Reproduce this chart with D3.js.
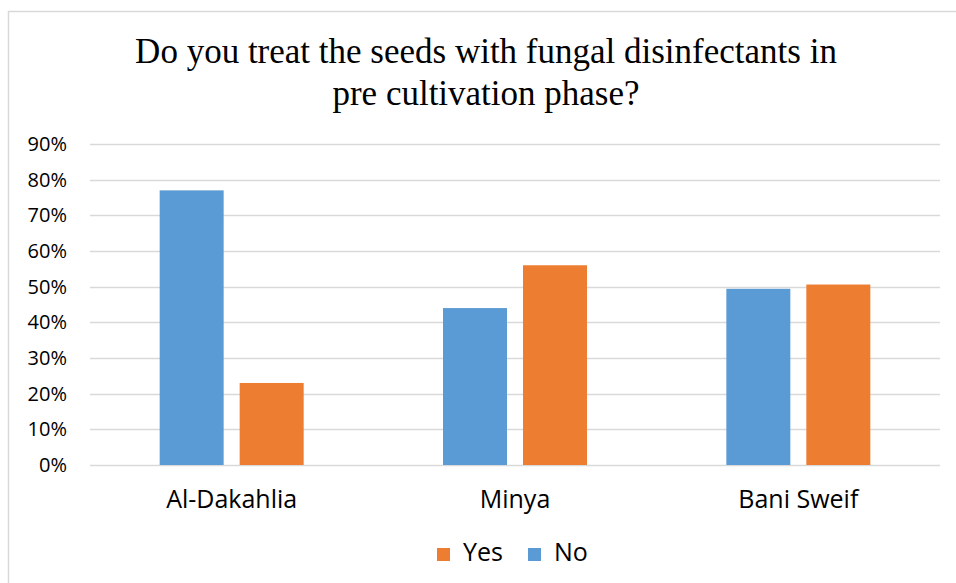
<!DOCTYPE html>
<html>
<head>
<meta charset="utf-8">
<script src="https://cdn.jsdelivr.net/npm/d3@7"></script>
<style>
  html, body { margin: 0; padding: 0; background: #fff; }
  svg { display: block; }
</style>
</head>
<body>
<svg id="chart" width="956" height="583"></svg>
<script>
// Survey answers per governorate (share of respondents)
const categories = ["Al-Dakahlia", "Minya", "Bani Sweif"];
const seriesNames = ["No", "Yes"];
const noValues = [0.77, 0.44, 0.494];
const yesValues = [0.23, 0.56, 0.506];
const yTicks = [0, 0.1, 0.2, 0.3, 0.4, 0.5, 0.6, 0.7, 0.8, 0.9];
const legendOrder = ["Yes", "No"];
const colors = { No: "#5b9bd5", Yes: "#ed7d31" };

const svg = d3.select("#chart");
const W = 956, H = 583;
const plot = { left: 90, right: 940, top: 144, bottom: 465 };
const sans = "'Open Sans', 'Liberation Sans', sans-serif";

// Chart frame
svg.append("rect")
  .attr("x", 8.5).attr("y", 11.5)
  .attr("width", W).attr("height", H)
  .attr("fill", "#fff").attr("stroke", "#d9d9d9").attr("stroke-width", 1.5);

// Title
const title = svg.append("text")
  .attr("text-anchor", "middle")
  .attr("font-family", "'Liberation Serif', 'Times New Roman', serif")
  .attr("font-size", 35)
  .attr("fill", "#000");
title.append("tspan").attr("x", 486).attr("y", 63).text("Do you treat the seeds with fungal disinfectants in");
title.append("tspan").attr("x", 486).attr("y", 105).text("pre cultivation phase?");

const x0 = d3.scaleBand().domain(categories).range([plot.left, plot.right]).paddingInner(0).paddingOuter(0);
const y = d3.scaleLinear().domain([0, 0.9]).range([plot.bottom, plot.top]);

// Gridlines
svg.append("g")
  .selectAll("line")
  .data(yTicks)
  .join("line")
  .attr("x1", plot.left).attr("x2", plot.right)
  .attr("y1", d => Math.round(y(d)) + 0.5).attr("y2", d => Math.round(y(d)) + 0.5)
  .attr("stroke", "#d9d9d9").attr("stroke-width", 1.5);

// Y axis labels
const yAxis = d3.axisLeft(y).tickValues(yTicks).tickFormat(d3.format(".0%")).tickSize(0).tickPadding(23);
const gy = svg.append("g").attr("transform", `translate(${plot.left},0)`).call(yAxis);
gy.select(".domain").remove();
gy.selectAll("text")
  .attr("font-family", sans)
  .attr("font-size", 20).attr("fill", "#000");

// Bars
const barW = 64, gap = 16;
const x1 = d3.scaleOrdinal().domain(seriesNames).range([-(barW + gap / 2), gap / 2]);
const rows = categories.map((c, i) => ({ c, No: noValues[i], Yes: yesValues[i] }));
const groups = svg.append("g").selectAll("g")
  .data(rows).join("g")
  .attr("transform", d => `translate(${x0(d.c) + x0.bandwidth() / 2},0)`);
groups.selectAll("rect")
  .data(d => seriesNames.map(s => ({ s, v: d[s] })))
  .join("rect")
  .attr("x", d => x1(d.s))
  .attr("width", barW)
  .attr("y", d => y(d.v))
  .attr("height", d => y(0) - y(d.v))
  .attr("fill", d => colors[d.s]);

// X axis labels
const xAxis = d3.axisBottom(x0).tickSize(0).tickPadding(25);
const gx = svg.append("g").attr("transform", `translate(0,${plot.bottom})`).call(xAxis);
gx.select(".domain").remove();
gx.selectAll("text")
  .attr("font-family", sans)
  .attr("font-size", 25).attr("fill", "#000");

// Legend
const legend = svg.append("g").attr("transform", "translate(437,561)");
const items = legend.selectAll("g").data(legendOrder).join("g")
  .attr("transform", (d, i) => `translate(${i * 91},0)`);
items.append("rect").attr("x", 0).attr("y", -13).attr("width", 13).attr("height", 13)
  .attr("fill", d => colors[d]);
items.append("text").attr("x", 26).attr("y", 0)
  .attr("font-family", sans)
  .attr("font-size", 25).attr("fill", "#000")
  .text(d => d);
</script>
</body>
</html>
